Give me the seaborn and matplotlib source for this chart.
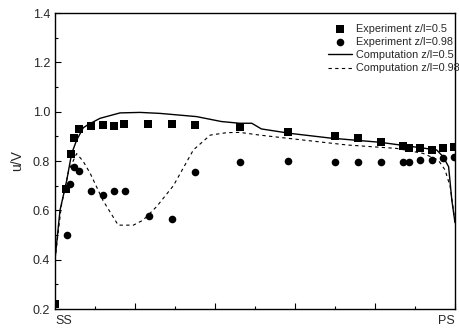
import numpy as np
import pandas as pd
import seaborn as sns
import matplotlib.pyplot as plt
from matplotlib.ticker import MultipleLocator

# Experiment data, z/l = 0.5 (squares)
exp05_x = [0.0, 0.142, 0.196, 0.241, 0.304, 0.446, 0.596, 0.7375, 0.867, 1.167, 1.458, 1.75,
           2.31, 2.917, 3.5, 3.79, 4.07, 4.35, 4.42, 4.5625, 4.71, 4.854, 4.99]
exp05_y = [0.22, 0.685, 0.828, 0.892, 0.928, 0.942, 0.945, 0.943, 0.949, 0.949, 0.951, 0.945,
           0.938, 0.919, 0.901, 0.892, 0.878, 0.861, 0.851, 0.851, 0.845, 0.851, 0.858]

# Experiment data, z/l = 0.98 (circles)
exp098_x = [0.146, 0.1875, 0.241, 0.304, 0.446, 0.596, 0.7375, 0.87, 1.175, 1.458, 1.75,
            2.31, 2.917, 3.5, 3.79, 4.07, 4.35, 4.42, 4.5625, 4.71, 4.854, 4.99]
exp098_y = [0.499, 0.707, 0.777, 0.759, 0.678, 0.662, 0.677, 0.677, 0.577, 0.564, 0.754,
            0.796, 0.799, 0.795, 0.795, 0.795, 0.797, 0.797, 0.804, 0.804, 0.811, 0.818]

# Computation z/l = 0.5 (solid)
comp05_x = [0.0, 0.0625, 0.146, 0.208, 0.271, 0.354, 0.417, 0.5625, 0.8125, 1.0625, 1.3125,
            1.77, 2.08, 2.31, 2.46, 2.58, 2.94, 3.44, 4.06, 4.77, 4.85, 4.92, 4.96, 5.0]
comp05_y = [0.40, 0.60, 0.72, 0.83, 0.885, 0.935, 0.948, 0.973, 0.995, 0.997, 0.993,
            0.980, 0.960, 0.953, 0.953, 0.930, 0.912, 0.893, 0.876, 0.845, 0.818, 0.777, 0.642, 0.55]

# Computation z/l = 0.98 (dashed)
comp098_x = [0.0, 0.08, 0.17, 0.27, 0.35, 0.44, 0.6, 0.79, 0.98, 1.1, 1.27, 1.48, 1.73, 1.94,
             2.15, 2.31, 2.56, 3.02, 3.65, 4.27, 4.6, 4.79, 4.875, 4.94, 4.98, 5.0]
comp098_y = [0.40, 0.62, 0.76, 0.83, 0.80, 0.75, 0.64, 0.54, 0.54, 0.56, 0.615, 0.70, 0.845, 0.905,
             0.915, 0.916, 0.905, 0.888, 0.865, 0.851, 0.831, 0.804, 0.764, 0.696, 0.60, 0.55]

x_labels = ["SS", "", "", "", "", "PS"]

sns.set_style("ticks")
plt.rcParams['font.family'] = ['Liberation Sans', 'DejaVu Sans']

fig = plt.figure(figsize=(4.59, 3.30), dpi=100)
ax = fig.add_axes([0.1198, 0.0636, 0.8715, 0.897])

sns.scatterplot(x=exp05_x, y=exp05_y, marker="s", s=32, color="black", edgecolor="black",
                linewidth=0, ax=ax, label="Experiment z/l=0.5")
sns.scatterplot(x=exp098_x, y=exp098_y, marker="o", s=30, color="black", edgecolor="black",
                linewidth=0, ax=ax, label="Experiment z/l=0.98")
sns.lineplot(x=comp05_x, y=comp05_y, color="black", linewidth=1.0, estimator=None, sort=False,
             ax=ax, label="Computation z/l=0.5")
sns.lineplot(x=comp098_x, y=comp098_y, color="black", linewidth=0.8, estimator=None, sort=False,
             dashes=False, ax=ax, label="Computation z/l=0.98")
ax.lines[-1].set_dashes([3, 3])

ax.set_xlim(0, 5)
ax.set_ylim(0.2, 1.4)
ax.set_xticks(range(6))
ax.set_xticklabels(x_labels)
# keep the end labels inside the figure
ax.get_xticklabels()[0].set_horizontalalignment("left")
ax.get_xticklabels()[-1].set_horizontalalignment("right")
ax.xaxis.set_minor_locator(MultipleLocator(0.5))
ax.yaxis.set_major_locator(MultipleLocator(0.2))
ax.yaxis.set_minor_locator(MultipleLocator(0.1))
ax.tick_params(which="both", direction="in", labelsize=9, width=0.8, color="black")
ax.tick_params(which="major", length=4)
ax.tick_params(which="minor", length=2.5)
ax.tick_params(axis="x", which="major", pad=4)
for s in ax.spines.values():
    s.set_visible(True)
    s.set_linewidth(1.0)
    s.set_color("black")

ax.set_xlabel("")
ax.set_ylabel("u/V", fontsize=10, labelpad=6)

leg = ax.legend(loc="upper right", bbox_to_anchor=(1.03, 0.99), frameon=False, fontsize=7.8,
                handlelength=2.3, handletextpad=0.3, labelspacing=0.3, borderaxespad=0.3)

plt.savefig("out.png", dpi=100)
